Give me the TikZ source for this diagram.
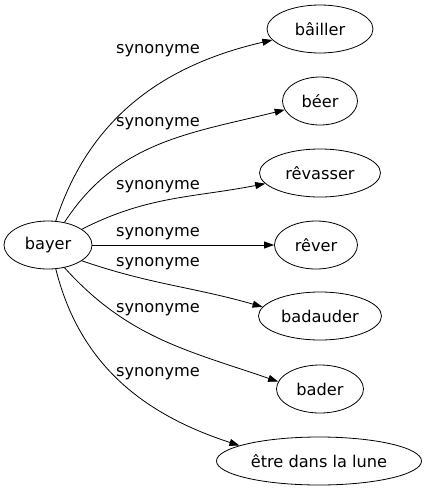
\documentclass[tikz,border=0pt]{standalone}
\usepackage{fontspec}
\setmainfont{DejaVu Sans}
\usetikzlibrary{arrows.meta, shapes.geometric}

\begin{document}
\begin{tikzpicture}[x=1pt, y=1pt,
    word/.style={ellipse, draw, line width=0.8pt, inner sep=0pt, minimum height=48pt},
    syn/.style={-{Triangle[length=10pt, width=7pt]}, line width=0.8pt},
    rel/.style={inner sep=0pt}]
    \fontsize{16.2}{19}\selectfont
    \useasboundingbox (0,0) rectangle (428,-491);

    % source word
    \node[word, minimum width=88pt] (bayer) at (48, -245) {bayer};

    % synonyms
    \node[word, minimum width=106pt] (bailler) at (320, -29) {bâiller};
    \node[word, minimum width=75pt] (beer) at (320, -101) {béer};
    \node[word, minimum width=121pt] (revasser) at (320, -173) {rêvasser};
    \node[word, minimum width=83pt] (rever) at (316, -245) {rêver};
    \node[word, minimum width=123pt] (badauder) at (320, -316) {badauder};
    \node[word, minimum width=87pt] (bader) at (320, -389) {bader};
    \node[word, minimum width=205pt] (lune) at (319, -461) {être dans la lune};

    % edges
    \draw[syn] (bayer.72) to[out=72, in=193] (bailler.193);
    \draw[syn] (bayer.54) to[out=57, in=194] (beer.194);
    \draw[syn] (bayer.25) to[out=27, in=191] (revasser.191);
    \draw[syn] (bayer.east) -- (rever.west);
    \draw[syn] (bayer.335) to[out=-19, in=164] (badauder.171);
    \draw[syn] (bayer.306) to[out=-48, in=161] (bader.170);
    \draw[syn] (bayer.288) to[out=-76, in=162] (lune.169);

    % edge labels
    \foreach \i/\y in {1/51, 2/124, 3/187, 4/234, 5/264, 6/310, 7/374}
        \node[rel] (s\i) at (158, -\y) {synonyme};
\end{tikzpicture}
\end{document}
